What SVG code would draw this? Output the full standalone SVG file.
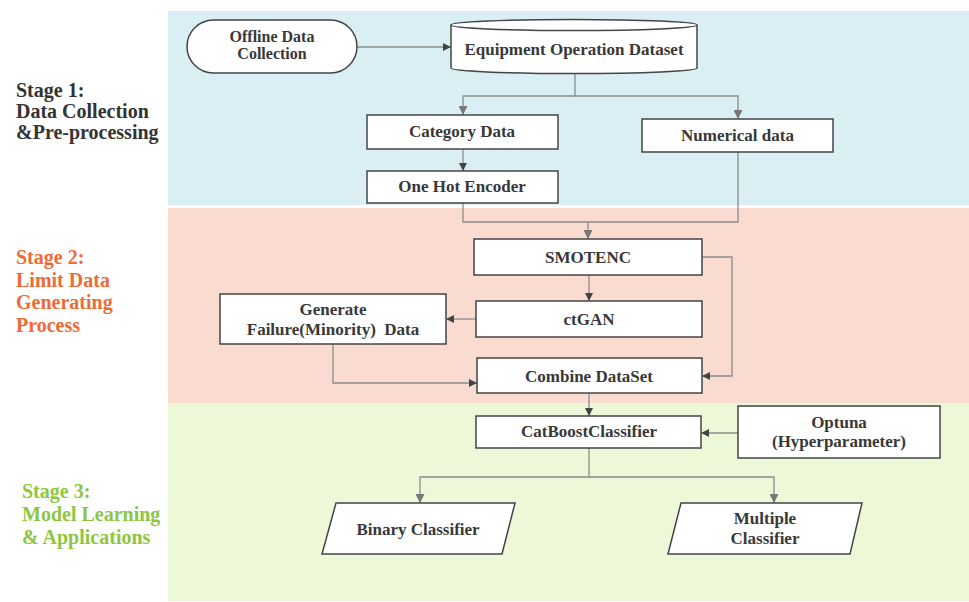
<svg xmlns="http://www.w3.org/2000/svg" width="969" height="602" viewBox="0 0 969 602">
<defs>
<style>
.node{fill:#fff;stroke:#444;stroke-width:1.5}
.t{font-family:"Liberation Serif","Times New Roman",serif;font-weight:bold;font-size:17px;fill:#383838;text-anchor:middle}
.st{font-family:"Liberation Serif","Times New Roman",serif;font-weight:bold;font-size:20px}
.c{fill:none;stroke:#8c8c8c;stroke-width:1.3}
</style>
<marker id="ah" viewBox="0 0 10 10" refX="10" refY="5" markerWidth="8" markerHeight="8" markerUnits="userSpaceOnUse" orient="auto">
<path d="M0,0 L10,5 L0,10 Z" fill="#444"/>
</marker>
<marker id="ahg" viewBox="0 0 10 10" refX="10" refY="5" markerWidth="9" markerHeight="9" markerUnits="userSpaceOnUse" orient="auto">
<path d="M0,0 L10,5 L0,10 Z" fill="#777"/>
</marker>
</defs>
<rect width="969" height="602" fill="#fff"/>
<g id="backgrounds">
<rect x="168" y="11" width="801" height="194" fill="#D9EFF3"/>
<rect x="168" y="208" width="801" height="195" fill="#FADBD0"/>
<rect x="168" y="403" width="801" height="198" fill="#EDF8D8"/>
</g>
<g id="stage-labels">
<text class="st" fill="#333"><tspan x="16" y="97">Stage 1:</tspan><tspan x="16" y="118">Data Collection</tspan><tspan x="16" y="139">&amp;Pre-processing</tspan></text>
<text class="st" fill="#EE6A36"><tspan x="16" y="264">Stage 2:</tspan><tspan x="16" y="287">Limit Data</tspan><tspan x="16" y="309">Generating</tspan><tspan x="16" y="332">Process</tspan></text>
<text class="st" fill="#8DC63F"><tspan x="22" y="498">Stage 3:</tspan><tspan x="22" y="521">Model Learning</tspan><tspan x="22" y="544">&amp; Applications</tspan></text>
</g>
<g id="connectors">
<line class="c" x1="357" y1="47" x2="451" y2="47" marker-end="url(#ah)"/>
<polyline class="c" points="575,73 575,96 463,96 463,115" marker-end="url(#ahg)"/>
<polyline class="c" points="575,96 738,96 738,119" marker-end="url(#ahg)"/>
<line class="c" x1="463" y1="149" x2="463" y2="171" marker-end="url(#ah)"/>
<polyline class="c" points="463,203 463,222 738,222 738,152"/>
<line class="c" x1="588" y1="222" x2="588" y2="239" marker-end="url(#ahg)"/>
<line class="c" x1="589" y1="275" x2="589" y2="301" marker-end="url(#ah)"/>
<line class="c" x1="476" y1="319" x2="446" y2="319" marker-end="url(#ah)"/>
<polyline class="c" points="702,257 732,257 732,376 702,376" marker-end="url(#ah)"/>
<polyline class="c" points="333,344 333,383 477,383" marker-end="url(#ah)"/>
<line class="c" x1="589" y1="393" x2="589" y2="416" marker-end="url(#ah)"/>
<line class="c" x1="738" y1="433" x2="701" y2="433" marker-end="url(#ah)"/>
<polyline class="c" points="589,448 589,477 420,477 420,503" marker-end="url(#ahg)"/>
<polyline class="c" points="589,477 774,477 774,503" marker-end="url(#ahg)"/>
</g>
<g id="offline">
<rect class="node" x="187" y="20" width="170" height="53" rx="26.5"/>
<text class="t" style="font-size:16px"><tspan x="272" y="42">Offline Data</tspan><tspan x="272" y="59">Collection</tspan></text>
</g>
<g id="dataset">
<path class="node" d="M451,25 A123,5.5 0 0 1 697,25 L697,68 A123,5.5 0 0 1 451,68 Z"/>
<path d="M451,25 A123,5.5 0 0 0 697,25" fill="none" stroke="#444" stroke-width="1.5"/>
<text class="t" x="574" y="55">Equipment Operation Dataset</text>
</g>
<g id="category">
<rect class="node" x="367" y="115" width="191" height="34"/>
<text class="t" x="462" y="137">Category Data</text>
</g>
<g id="numerical">
<rect class="node" x="642" y="119" width="191" height="33"/>
<text class="t" x="737.5" y="141">Numerical data</text>
</g>
<g id="onehot">
<rect class="node" x="367" y="171" width="191" height="32"/>
<text class="t" x="462" y="192">One Hot Encoder</text>
</g>
<g id="smotenc">
<rect class="node" x="474" y="239" width="228" height="36"/>
<text class="t" x="588" y="263">SMOTENC</text>
</g>
<g id="ctgan">
<rect class="node" x="476" y="301" width="226" height="36"/>
<text class="t" x="589" y="325">ctGAN</text>
</g>
<g id="generate">
<rect class="node" x="220" y="294" width="226" height="50"/>
<text class="t"><tspan x="333" y="315">Generate</tspan><tspan x="333" y="335" xml:space="preserve">Failure(Minority)  Data</tspan></text>
</g>
<g id="combine">
<rect class="node" x="477" y="358" width="225" height="35"/>
<text class="t" x="589" y="382">Combine DataSet</text>
</g>
<g id="catboost">
<rect class="node" x="476" y="416" width="225" height="32"/>
<text class="t" x="589" y="437">CatBoostClassifier</text>
</g>
<g id="optuna">
<rect class="node" x="738" y="406" width="202" height="52"/>
<text class="t"><tspan x="839" y="428">Optuna</tspan><tspan x="839" y="447">(Hyperparameter)</tspan></text>
</g>
<g id="binary">
<polygon class="node" points="336,503 515,503 502,554 322,554"/>
<text class="t" x="418" y="535">Binary Classifier</text>
</g>
<g id="multiple">
<polygon class="node" points="681,503 862,503 850,554 668,554"/>
<text class="t"><tspan x="765" y="524">Multiple</tspan><tspan x="765" y="544">Classifier</tspan></text>
</g>
</svg>
